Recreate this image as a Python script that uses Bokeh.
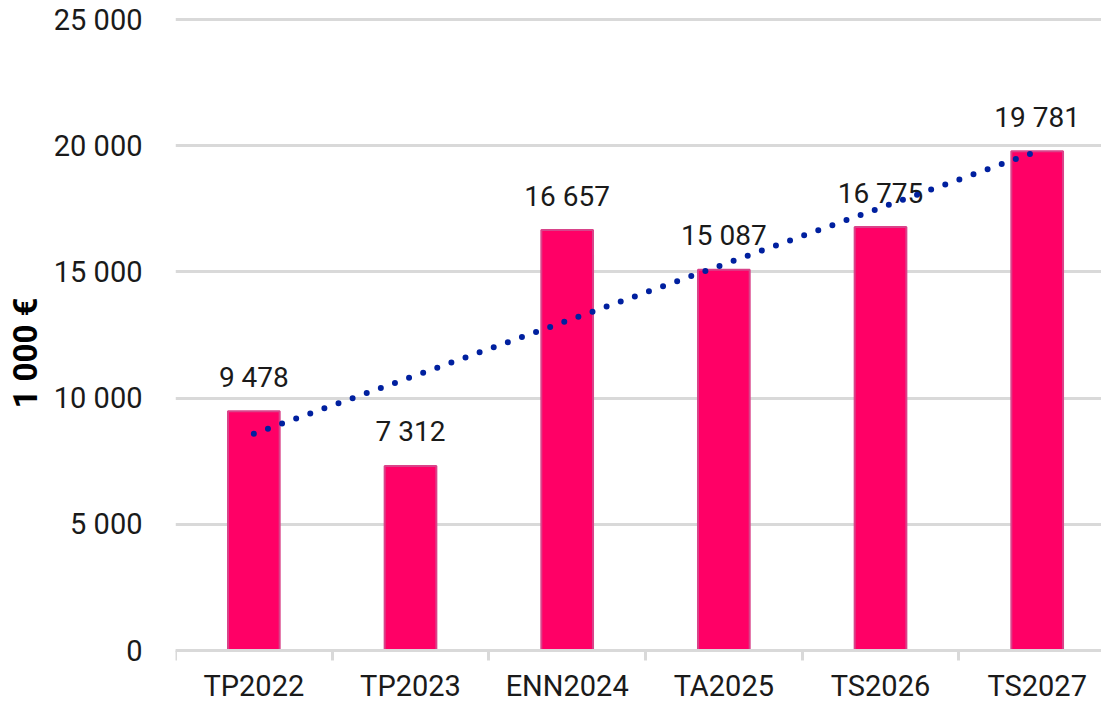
import numpy as np
from bokeh.plotting import figure
from bokeh.models import FixedTicker, Range1d
from bokeh.core.properties import value
from bokeh.embed import file_html
from bokeh.resources import INLINE

# ---- data ----
categories = ["TP2022", "TP2023", "ENN2024", "TA2025", "TS2026", "TS2027"]
values = [9478, 7312, 16657, 15087, 16775, 19781]
y_ticks = [0, 5000, 10000, 15000, 20000, 25000]
y_axis_title = "1 000 €"


def fmt(v):
    return f"{int(round(v)):,}".replace(",", " ")


x = list(range(1, len(categories) + 1))
bounds = [i - 0.5 for i in range(1, len(categories) + 2)]
labels = [fmt(v) for v in values]

# linear trend of the series
slope, intercept = np.polyfit(x, values, 1)
x_trend = [x[0], x[-1]]
y_trend = [slope * xi + intercept for xi in x_trend]

FONT = "Roboto"
TXT = "#1a1a1a"
GRID = "#D9D9D9"

W, H = 1101, 705
LEFT = 175             # frame left
CAT_PX = 156.67        # pixels per category
ZERO_PX = 650          # pixel row of value 0
UNITS_PER_PX = 5000 / 126.2

p = figure(width=W, height=H, output_backend="svg", toolbar_location=None,
           x_range=Range1d(0.5, 0.5 + (W - LEFT) / CAT_PX),
           y_range=Range1d(-(H - ZERO_PX) * UNITS_PER_PX, ZERO_PX * UNITS_PER_PX),
           min_border_left=LEFT, min_border_right=0, min_border_top=0,
           min_border_bottom=0, outline_line_color=None,
           background_fill_color="white", border_fill_color="white")

# grid
p.xgrid.grid_line_color = None
p.ygrid.ticker = FixedTicker(ticks=y_ticks)
p.ygrid.grid_line_color = GRID
p.ygrid.grid_line_width = 3

# y axis
p.yaxis.ticker = FixedTicker(ticks=y_ticks)
p.yaxis.major_label_overrides = {t: fmt(t) for t in y_ticks}
p.yaxis.axis_line_color = None
p.yaxis.major_tick_line_color = None
p.yaxis.minor_tick_line_color = None
p.yaxis.major_label_standoff = 27
p.yaxis.major_label_text_font = FONT
p.yaxis.major_label_text_font_size = "29px"
p.yaxis.major_label_text_color = TXT
p.yaxis.axis_label = y_axis_title
p.yaxis.axis_label_text_font = FONT
p.yaxis.axis_label_text_font_size = "33px"
p.yaxis.axis_label_text_font_style = "bold"
p.yaxis.axis_label_text_color = "black"
p.yaxis.axis_label_standoff = 6

# x axis, drawn at value 0
p.xaxis.fixed_location = 0
p.xaxis.ticker = FixedTicker(ticks=x, minor_ticks=bounds)
p.xaxis.major_label_overrides = {xi: c for xi, c in zip(x, categories)}
p.xaxis.axis_line_color = GRID
p.xaxis.axis_line_width = 3
p.xaxis.major_tick_out = 0
p.xaxis.major_tick_in = 0
p.xaxis.major_tick_line_color = None
p.xaxis.minor_tick_out = 10
p.xaxis.minor_tick_in = 0
p.xaxis.minor_tick_line_color = GRID
p.xaxis.minor_tick_line_width = 3
p.xaxis.major_label_standoff = 8
p.xaxis.major_label_text_font = FONT
p.xaxis.major_label_text_font_size = "29px"
p.xaxis.major_label_text_color = TXT

# bars
p.vbar(x=x, top=values, width=0.33, fill_color="#FF0066",
       line_color="#D9438A", line_width=2)

# value labels
p.text(x=x, y=values, text=labels, text_align="center",
       text_baseline="alphabetic", y_offset=-34,
       text_font=value(FONT), text_font_size="28px", text_color=TXT)

# trend line
p.line(x=x_trend, y=y_trend, line_color="#00209F", line_width=6,
       line_dash="0 15", line_cap="round")

open("out.html", "w").write(file_html(p, INLINE))
